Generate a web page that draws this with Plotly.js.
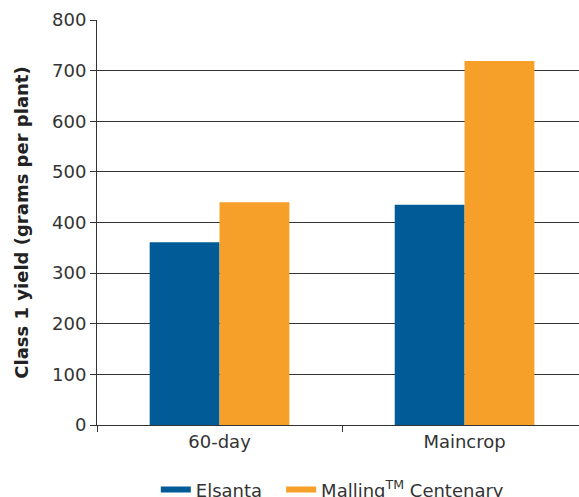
<!DOCTYPE html>
<html><head><meta charset="utf-8">
<script src="https://cdn.plot.ly/plotly-3.0.1.min.js"></script>
<style>html,body{margin:0;padding:0;background:#fff}#chart{width:579px;height:497px}</style>
</head><body><div id="chart"></div>
<script>
const categories = ["60-day", "Maincrop"];
const elsanta = [361, 435];
const malling = [440, 719];
const seriesNames = ["Elsanta", "Malling<sup>TM</sup> Centenary"];
const yTicks = [0, 100, 200, 300, 400, 500, 600, 700, 800];

const blue = "#005b96";
const orange = "#f6a02a";
const font = "DejaVu Sans, sans-serif";

const data = [
  {type: "bar", x: categories, y: elsanta, name: seriesNames[0], marker: {color: blue}, showlegend: false, hoverinfo: "y"},
  {type: "bar", x: categories, y: malling, name: seriesNames[1], marker: {color: orange}, showlegend: false, hoverinfo: "y"},
  {type: "scatter", mode: "lines", x: [null], y: [null], name: seriesNames[0], line: {color: blue, width: 6}, showlegend: true, legend: "legend"},
  {type: "scatter", mode: "lines", x: [null], y: [null], name: seriesNames[1], line: {color: orange, width: 6}, showlegend: true, legend: "legend2"}
];

const legendBase = {
  orientation: "h", xanchor: "left", y: -0.16, yanchor: "middle",
  font: {size: 18, color: "#333"}, itemwidth: 30, bgcolor: "rgba(0,0,0,0)"
};

const layout = {
  width: 579, height: 497,
  margin: {l: 97, r: 0, t: 20, b: 72, autoexpand: false},
  paper_bgcolor: "#fff", plot_bgcolor: "#fff",
  barmode: "group",
  bargap: 0.43, bargroupgap: 0,
  font: {family: font, color: "#333", size: 17},
  xaxis: {
    type: "category",
    range: [-0.5, 1.467],
    showline: true, linecolor: "#333", linewidth: 1,
    ticks: "outside", tickson: "boundaries", ticklen: 6, tickcolor: "#333",
    showgrid: false, zeroline: false,
    tickfont: {size: 18, color: "#333"}
  },
  yaxis: {
    range: [0, 800],
    tickvals: yTicks,
    ticktext: yTicks.map(String),
    showline: true, linecolor: "#333", linewidth: 1,
    ticks: "outside", ticklen: 6, tickcolor: "#333",
    showgrid: true, gridcolor: "#333", gridwidth: 1,
    zeroline: false,
    tickfont: {size: 18, color: "#333"},
    title: {text: "<b>Class 1 yield (grams per plant)</b>", font: {size: 18, color: "#222"}, standoff: 18}
  },
  legend: Object.assign({}, legendBase, {x: 0.122}),
  legend2: Object.assign({}, legendBase, {x: 0.382}),
  showlegend: true
};

Plotly.newPlot("chart", data, layout, {displayModeBar: false, staticPlot: true});
</script></body></html>
